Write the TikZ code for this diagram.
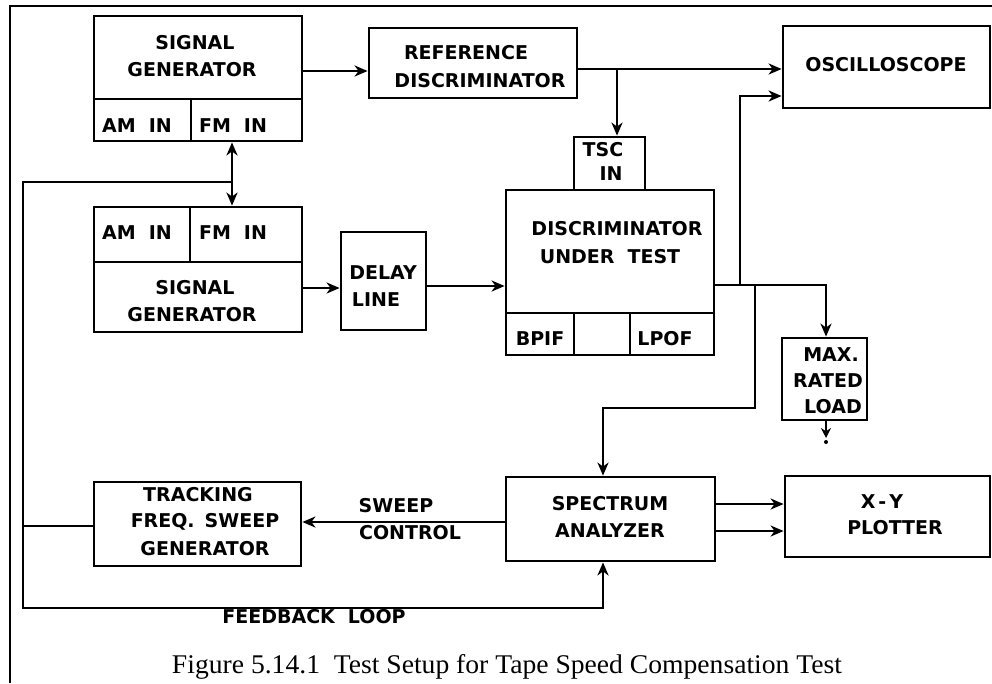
\documentclass[tikz,border=0pt]{standalone}
\usepackage{fontspec}
\usepackage{graphicx}
\usetikzlibrary{arrows.meta,calc}
\newfontfamily\plotfont{DejaVu Sans}
\newfontfamily\capfont{Liberation Serif}
\newcommand{\widesp}{\spaceskip=13pt\relax}
\tikzset{
  box/.style={draw,line width=2.8pt,inner sep=0pt,rectangle},
  lbl/.style={font=\plotfont\bfseries\fontsize{19}{22}\selectfont,execute at begin node=\widesp,inner sep=0pt,anchor=center},
  wire/.style={line width=2.3pt},
  arr/.style={wire,-{Stealth[length=13pt,width=11pt,inset=4pt]}}
}
\newcommand{\mybox}[5]{\node[box,minimum width={(#4)-(#2)},minimum height={(#5)-(#3)}] (#1) at ({((#2)+(#4))/2},{((#3)+(#5))/2}) {};}
\begin{document}
\begin{tikzpicture}[x=1pt,y=-1pt]
\useasboundingbox (0,0) rectangle (992,683);
% frame
\draw[line width=2pt] (10,683) -- (10,6) -- (992,6);

% boxes
\mybox{sg1}{94}{16}{302}{141}
\mybox{am1}{94}{99}{191}{141}
\mybox{fm1}{191}{99}{302}{141}
\mybox{refd}{369}{28}{577}{98}
\mybox{osc}{783}{26}{990}{108}
\mybox{tsc}{574}{137}{645}{190}
\mybox{dut}{506}{190}{714}{355}
\mybox{bpif}{506}{313}{574}{355}
\mybox{mid}{574}{313}{630}{355}
\mybox{lpof}{630}{313}{714}{355}
\mybox{sg2}{94}{207}{302}{332}
\mybox{am2}{94}{207}{190}{262}
\mybox{fm2}{190}{207}{302}{262}
\mybox{delay}{341}{232}{426}{330}
\mybox{mrl}{782}{338}{867}{420}
\mybox{tfsg}{94}{482}{301}{566}
\mybox{sa}{506}{477}{715}{561}
\mybox{xy}{785}{476}{990}{557}

% labels
\node[lbl] (t1) at (195,43) {SIGNAL};
\node[lbl] (t2) at (192,70) {GENERATOR};
\node[lbl] (t3) at (137,126) {AM IN};
\node[lbl] (t4) at (233,126) {FM IN};
\node[lbl] (t5) at (466,53) {REFERENCE};
\node[lbl] (t6) at (480,81) {DISCRIMINATOR};
\node[lbl] (t7) at (886,65) {OSCILLOSCOPE};
\node[lbl] (t8) at (603,150) {TSC};
\node[lbl] (t9) at (611,174) {IN};
\node[lbl] (t10) at (617,229) {DISCRIMINATOR};
\node[lbl] (t11) at (610,257) {UNDER TEST};
\node[lbl] (t12) at (540,339) {BPIF};
\node[lbl] (t13) at (665,339) {LPOF};
\node[lbl] (t14) at (137,233) {AM IN};
\node[lbl] (t15) at (233,233) {FM IN};
\node[lbl] (t16) at (195,288) {SIGNAL};
\node[lbl] (t17) at (192,315) {GENERATOR};
\node[lbl] (t18) at (383,273) {DELAY};
\node[lbl] (t19) at (376,300) {LINE};
\node[lbl] (t20) at (831,355) {MAX.};
\node[lbl] (t21) at (828,381) {RATED};
\node[lbl] (t22) at (833,407) {LOAD};
\node[lbl] (t23) at (198,495) {TRACKING};
\node[lbl] (t24) at (205,522) {FREQ.\hspace{-3pt} SWEEP};
\node[lbl] (t25) at (205,549) {GENERATOR};
\node[lbl] (t26) at (610,504) {SPECTRUM};
\node[lbl] (t27) at (610,531) {ANALYZER};
\node[lbl] (t28) at (882,502) {X\kern3pt-\kern3pt Y};
\node[lbl] (t29) at (895,528) {PLOTTER};
\node[lbl] (t30) at (396,506) {SWEEP};
\node[lbl] (t31) at (410,533) {CONTROL};
\node[lbl] (t32) at (314,617) {FEEDBACK LOOP};
\node[inner sep=0pt] (cap) at (507,667) {\resizebox{670pt}{\height}{\capfont\fontsize{27}{30}\selectfont Figure 5.14.1\ \ Test Setup for Tape Speed Compensation Test}};

% junction coordinates
\coordinate (j1) at (617,69);
\coordinate (fbtop) at (232,182);
\coordinate (fbl) at (603,608);
\coordinate (lft) at (23,608);
\coordinate (j2) at (740,285);
\coordinate (j3) at (755,285);
\coordinate (k) at (603,408);
\coordinate (gnd) at (826,438);

% connectors
\draw[arr] (sg1.east |- 0,71) -- (refd.west |- 0,71);
\draw[arr] (refd.east |- j1) -- (osc.west |- j1);
\draw[arr] (j1) -- (j1 |- tsc.north);
\draw[arr] (fbtop) -- (fbtop |- fm1.south);
\draw[arr] (fbtop) -- (fbtop |- fm2.north);
\draw[arr] (fbtop) -| (lft) -- (fbl) -- (fbl |- sa.south);
\draw[wire] (tfsg.west |- 0,526) -- (lft |- 0,526);
\draw[arr] (sa.west |- 0,522) -- (tfsg.east |- 0,522);
\draw[arr] (sg2.east |- 0,288) -- (delay.west |- 0,288);
\draw[arr] (delay.east |- 0,286) -- (dut.west |- 0,286);
\draw[arr] (dut.east |- j2) -| (mrl.north -| 826,0);
\draw[arr] (j2) |- (osc.west |- 0,96);
\draw[arr] (j3) |- (k) -- (k |- sa.north);
\draw[arr] (sa.east |- 0,504) -- (xy.west |- 0,504);
\draw[arr] (sa.east |- 0,531) -- (xy.west |- 0,531);
\draw[wire,-{Stealth[length=10pt,width=10pt]}] (mrl.south -| gnd) -- (gnd);
\fill (826,442) circle (2);
\end{tikzpicture}
\end{document}
